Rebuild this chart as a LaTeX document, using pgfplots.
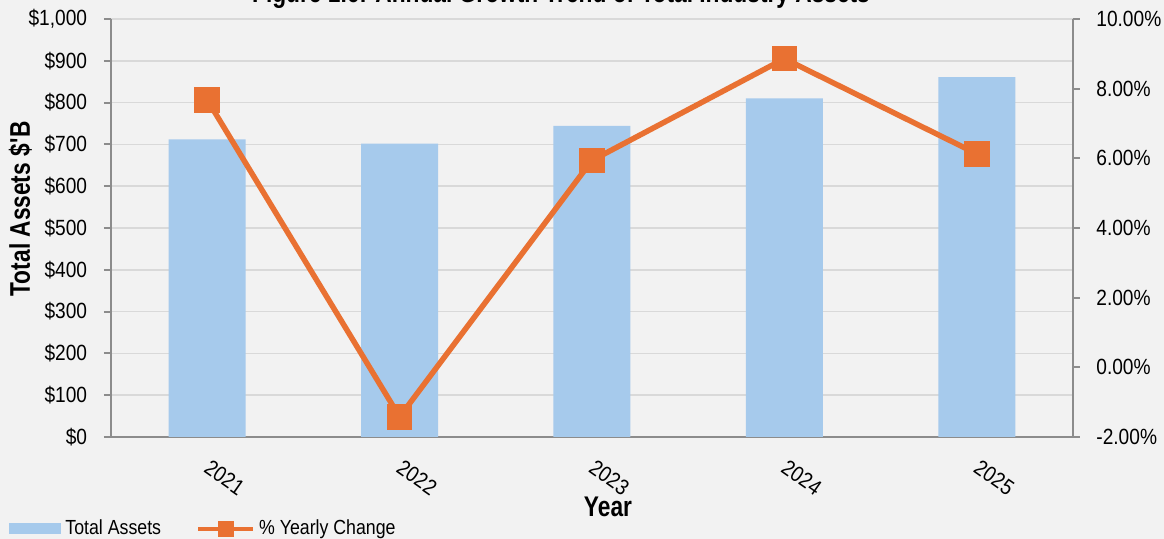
\documentclass[border=0pt]{standalone}
\usepackage{fontspec}
\setmainfont{Liberation Sans}[FakeStretch=0.87]
\newfontfamily\headfont{Liberation Sans}[FakeStretch=0.8]
\usepackage{pgfplots}
\pgfplotsset{compat=1.18}

\definecolor{bgc}{HTML}{F2F2F2}
\definecolor{barblue}{HTML}{A6CAEC}
\definecolor{lineorange}{HTML}{E97132}
\definecolor{axisgray}{HTML}{8C8C8C}
\definecolor{gridgray}{HTML}{D9D9D9}

\pgfplotsset{
  base/.style={
    scale only axis, width=481pt, height=209pt,
    xmin=-0.5, xmax=4.5,
    tick align=outside, major tick length=3.5pt,
    axis line style={-, draw=axisgray, line width=1pt},
    y tick style={draw=axisgray, line width=1pt},
    x tick style={draw=none},
    tick label style={font=\fontsize{11}{13}\selectfont},
  },
  barlegend/.style={
    legend image code/.code={\fill[##1] (0pt,-2.75pt) rectangle (26pt,2.75pt);}},
  linelegend/.style={
    legend image code/.code={\draw[##1, line width=2pt, mark size=3pt, mark repeat=2, mark phase=2]
      plot coordinates {(0pt,0pt) (13.75pt,0pt) (27.5pt,0pt)};}},
}

\begin{document}
\begin{tikzpicture}
\useasboundingbox (-55.5pt,-51pt) rectangle (526.5pt,218.5pt);
\fill[bgc] (-55.5pt,-51pt) rectangle (526.5pt,218.5pt);

\begin{axis}[base,
  ymin=0, ymax=1000,
  axis y line*=left, axis x line*=bottom,
  xtick={0,1,2,3,4},
  xticklabels={2021,2022,2023,2024,2025},
  xticklabel style={rotate=-35, anchor=north west, inner sep=0pt, xshift=5.95pt, yshift=-4.76pt},
  ytick={0,100,...,1000},
  yticklabels={\$0,\$100,\$200,\$300,\$400,\$500,\$600,\$700,\$800,\$900,{\$1,000}},
  yticklabel style={anchor=east, inner sep=0pt, xshift=-8.25pt},
  ymajorgrids, grid style={draw=gridgray, line width=0.75pt},
]
\addplot[ybar, bar width=38.5pt, fill=barblue, draw=none] coordinates {
  (0,712) (1,702) (2,744) (3,810) (4,861)
};
\end{axis}

\begin{axis}[base,
  ymin=-2, ymax=10,
  axis y line*=right, axis x line=none,
  ytick={-2,0,...,10},
  yticklabels={-2.00\%,0.00\%,2.00\%,4.00\%,6.00\%,8.00\%,10.00\%},
  yticklabel style={anchor=west, inner sep=0pt, xshift=8pt},
  legend columns=2,
  legend cell align=left,
  legend style={at={(-0.106,-0.22)}, anchor=west, draw=none, fill=none,
    inner sep=0pt, font=\fontsize{10.2}{12}\selectfont,
    /tikz/every even column/.append style={column sep=15.5pt}},
]
\addlegendimage{fill=barblue, draw=none, barlegend}
\addlegendentry{Total Assets}
\addplot[color=lineorange, line width=2.75pt, mark=square*, mark size=5pt, linelegend]
  coordinates {(0,7.68) (1,-1.42) (2,5.94) (3,8.86) (4,6.13)};
\addlegendentry{\% Yearly Change}
\end{axis}

\node[anchor=base, font=\headfont\bfseries\fontsize{14.2}{16}\selectfont] at (225pt,217pt)
  {Figure 1.6: Annual Growth Trend of Total Industry Assets};
\node[anchor=base, rotate=90, font=\headfont\bfseries\fontsize{14.2}{16}\selectfont] at (-40.5pt,114.25pt)
  {Total Assets \$\textquotesingle B};
\node[anchor=base, font=\headfont\bfseries\fontsize{14.2}{16}\selectfont] at (248.5pt,-40pt) {Year};
\end{tikzpicture}
\end{document}
